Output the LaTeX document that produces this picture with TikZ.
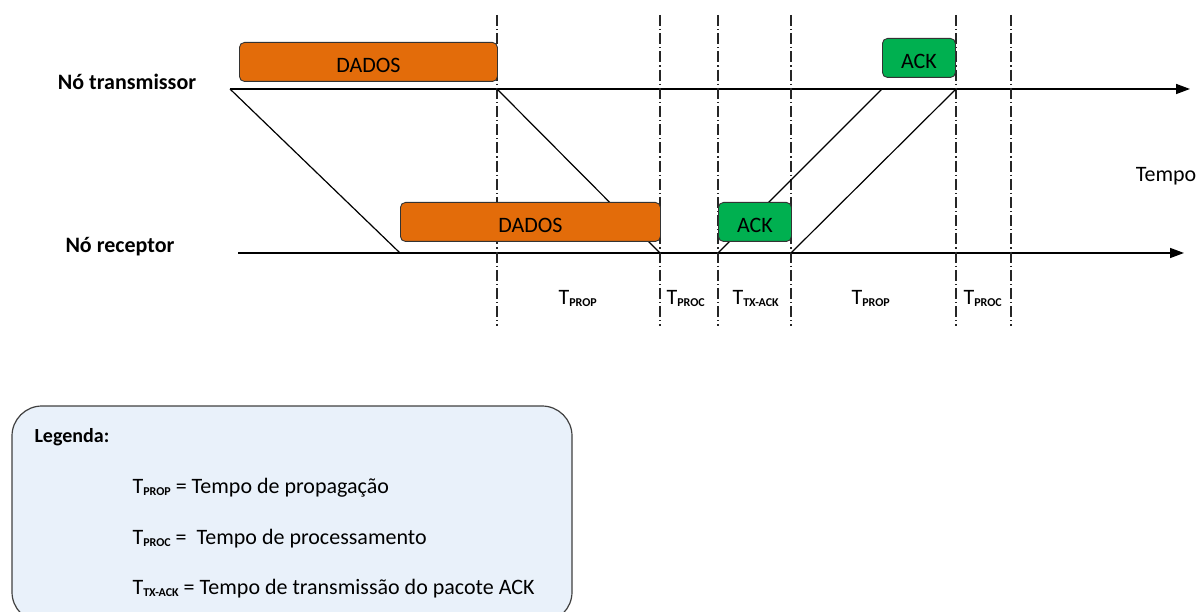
\documentclass[tikz,border=0pt]{standalone}
\usepackage{fontspec}
\setmainfont{Carlito}
\usetikzlibrary{arrows.meta,positioning}

\definecolor{dadoscor}{HTML}{E36C0A}
\definecolor{ackcor}{HTML}{00B050}
\definecolor{legcor}{HTML}{E9F1FA}

% subscript of the time labels
\newcommand{\tsub}[1]{T\raisebox{-2pt}{\fontsize{12}{12}\selectfont\bfseries #1}}

\tikzset{
	pkt/.style={draw=black!80, rounded corners=5pt, anchor=north west, inner sep=0pt,
		line width=0.9pt, text height=23pt, text depth=2pt, font=\fontsize{22}{26}\selectfont},
	dadosbox/.style={pkt, fill=dadoscor},
	ackbox/.style={pkt, fill=ackcor},
	eixo/.style={line width=1.5pt, -{Triangle[length=14pt,width=10pt]}},
	marca/.style={dash pattern=on 11pt off 3pt on 1.2pt off 3pt, line width=1.2pt, black!85},
	traco/.style={line width=1.2pt},
	rotulo/.style={font=\fontsize{22}{26}\selectfont\bfseries},
	tempo/.style={font=\fontsize{22}{26}\selectfont},
	legtxt/.style={anchor=west, font=\fontsize{22}{26}\selectfont}
}

\begin{document}
\begin{tikzpicture}[x=1pt, y=-1pt]
	\path[use as bounding box, clip] (0,0) rectangle (1200,612);

	% axes
	\coordinate (txa) at (230,89);
	\coordinate (txb) at (1190,89);
	\coordinate (rxa) at (238,253);
	\coordinate (rxb) at (1184,253);
	\draw[eixo] (txa) -- (txb);
	\draw[eixo] (rxa) -- (rxb);

	% time marks
	\foreach \x/\n in {497/a, 660/b, 718/c, 791/d, 956/e, 1011/f}{
		\coordinate (m\n) at (\x,15);
		\draw[marca] (m\n) -- (\x,326);
	}

	% packet edges
	\coordinate (d1) at (400,253);
	\coordinate (d2) at (497,89);
	\coordinate (d3) at (660,253);
	\coordinate (k1) at (718,253);
	\coordinate (k2) at (882,89);
	\coordinate (k3) at (791,253);
	\coordinate (k4) at (956,89);
	\draw[traco] (txa) -- (d1);
	\draw[traco] (d2) -- (d3);
	\draw[traco] (k1) -- (k2);
	\draw[traco] (k3) -- (k4);

	% packets
	\node[dadosbox, minimum width=258pt, minimum height=39pt] (dtx) at (239,42) {DADOS};
	\node[dadosbox, minimum width=260pt, minimum height=39pt] (drx) at (400,202) {DADOS};
	\node[ackbox, minimum width=73pt, minimum height=39pt] (arx) at (718,202) {ACK};
	\node[ackbox, minimum width=73pt, minimum height=39pt] (atx) at (882,38) {ACK};

	% labels
	\node[rotulo] (ntx) at (127,82) {Nó transmissor};
	\node[rotulo] (nrx) at (120,247) {Nó receptor};
	\node[tempo] (tmp) at (1166,176) {Tempo};

	\node[tempo, anchor=west] (t1) at (555,298) {\tsub{PROP}};
	\node[tempo, anchor=west] (t2) at (663,298) {\tsub{PROC}};
	\node[tempo, anchor=west] (t3) at (729,298) {\tsub{TX-ACK}};
	\node[tempo, anchor=west] (t4) at (848,298) {\tsub{PROP}};
	\node[tempo, anchor=west] (t5) at (960,298) {\tsub{PROC}};

	% legend
	\draw[fill=legcor, draw=black!75, line width=1.2pt, rounded corners=30pt] (12,406) rectangle (572,622);
	\node[legtxt, font=\fontsize{20}{24}\selectfont\bfseries] (leg) at (31,437) {Legenda:};
	\node[legtxt] (l1) at (129,488) {\tsub{PROP} = Tempo de propagação};
	\node[legtxt] (l2) at (129,539) {\tsub{PROC} =~ Tempo de processamento};
	\node[legtxt] (l3) at (129,589) {\tsub{TX-ACK} = Tempo de transmissão do pacote ACK};
\end{tikzpicture}
\end{document}
